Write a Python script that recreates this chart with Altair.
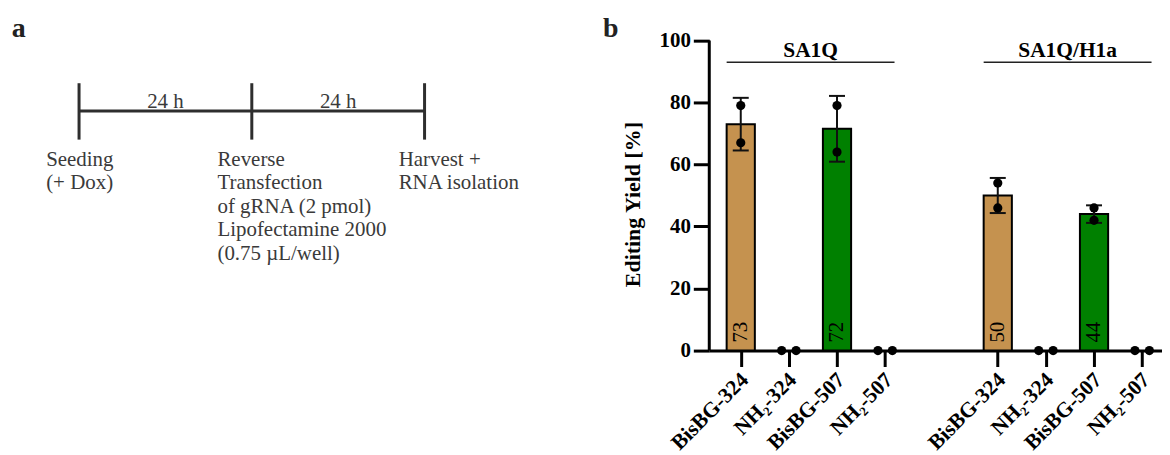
import json
import altair as alt
import pandas as pd

# ---------------- data ----------------
# panel a: timeline
event_hours = [0, 24, 48]
event_texts = [
    "Seeding\n(+ Dox)",
    "Reverse\nTransfection\nof gRNA (2 pmol)\nLipofectamine 2000\n(0.75 µL/well)",
    "Harvest +\nRNA isolation",
]
interval_texts = ["24 h", "24 h"]

# panel b: editing yield
groups = ["SA1Q", "SA1Q/H1a"]
samples = ["BisBG-324", "NH₂-324", "BisBG-507", "NH₂-507"]
sa1q_rep1 = [79, 0, 79, 0]
sa1q_rep2 = [67, 0, 64, 0]
h1a_rep1 = [54, 0, 46, 0]
h1a_rep2 = [46, 0, 42, 0]
y_ticks = [0, 20, 40, 60, 80, 100]

# ---------------- style / layout ----------------
SERIF = "Liberation Serif"
TAN = "#C5924F"
GREEN = "#008000"
GROUP_GAP = 1.34        # extra category slots between the two groups
BAR_HALF = 0.293
CAP_HALF = 0.166
DOT_SPREAD = 0.15
LABEL_DX = [-33, -34.5, -26]

reps = {groups[0]: (sa1q_rep1, sa1q_rep2), groups[1]: (h1a_rep1, h1a_rep2)}

bar_rows, pt_rows = [], []
for gi, g in enumerate(groups):
    r1, r2 = reps[g]
    for si, s in enumerate(samples):
        pos = si + gi * (len(samples) + GROUP_GAP)
        a, b = r1[si], r2[si]
        mean = (a + b) / 2
        sd = abs(a - b) / 2 ** 0.5
        bar_rows.append(dict(group=g, sample=s, pos=pos, x1=pos - BAR_HALF, x2=pos + BAR_HALF,
                             c1=pos - CAP_HALF, c2=pos + CAP_HALF, zero=0,
                             mean=mean, lo=mean - sd, hi=mean + sd, label=str(int(mean + 0.5))))
        offs = (-DOT_SPREAD, DOT_SPREAD) if a == b else (0, 0)
        for v, o in zip((a, b), offs):
            pt_rows.append(dict(group=g, sample=s, px=pos + o, value=v))

bars = pd.DataFrame(bar_rows)
pts = pd.DataFrame(pt_rows)
filled = bars[bars["mean"] > 0].reset_index(drop=True)

grp_rows = []
for g in groups:
    sub = bars[bars["group"] == g]
    lo_x = sub["pos"].min() - BAR_HALF
    hi_x = sub["pos"].max() + 0.195
    grp_rows.append(dict(group=g, l1=lo_x, l2=hi_x, mid=(lo_x + hi_x) / 2))
grp = pd.DataFrame(grp_rows)

tick_pos = [float(v) for v in bars["pos"]]
split = len(samples) - 1 + (GROUP_GAP + 1) / 2
label_expr = (f"{json.dumps(samples, ensure_ascii=False)}"
              f"[round(datum.value > {split} ? datum.value - {len(samples) + GROUP_GAP} : datum.value)]")

xs = alt.Scale(domain=[-0.654, 8.746], nice=False, zero=False)
ys = alt.Scale(domain=[0, 110.2], nice=False, zero=True)

x_axis = alt.Axis(values=tick_pos, labelExpr=label_expr, title=None, grid=False,
                  domain=True, domainWidth=3, domainColor="black",
                  ticks=True, tickSize=16, tickWidth=3, tickColor="black",
                  labelAngle=315, labelAlign="right", labelBaseline="middle",
                  labelFont=SERIF, labelFontWeight="bold", labelFontSize=21.5, labelColor="black",
                  labelPadding=10, labelOffset=4, labelOverlap=False, labelFlush=False, labelBound=False)
y_axis = alt.Axis(values=y_ticks, grid=False, domain=False,
                  ticks=True, tickSize=16, tickWidth=3, tickColor="black",
                  labelFont=SERIF, labelFontWeight="bold", labelFontSize=21, labelColor="black",
                  labelPadding=3, labelFlush=False,
                  title="Editing Yield [%]", titleFont=SERIF, titleFontSize=22, titleFontWeight="bold",
                  titleColor="black", titleX=-70, titleY=196, titleAngle=270, titleAlign="center",
                  titleBaseline="alphabetic")

base_b = alt.Chart(filled)

bar_layer = base_b.mark_rect(stroke="black", strokeWidth=2).encode(
    x=alt.X("x1:Q", scale=xs, axis=x_axis),
    x2="x2:Q",
    y=alt.Y("mean:Q", scale=ys, axis=y_axis),
    y2="zero:Q",
    fill=alt.Fill("sample:N", scale=alt.Scale(domain=[samples[0], samples[2]], range=[TAN, GREEN]), legend=None),
)
err_layer = base_b.mark_rule(color="#111", strokeWidth=2).encode(
    x="pos:Q", y="lo:Q", y2="hi:Q")
cap_hi = base_b.mark_rule(color="#111", strokeWidth=2).encode(x="c1:Q", x2="c2:Q", y="hi:Q")
cap_lo = base_b.mark_rule(color="#111", strokeWidth=2).encode(x="c1:Q", x2="c2:Q", y="lo:Q")
dot_layer = alt.Chart(pts).mark_circle(size=85, color="black", opacity=1).encode(
    x="px:Q", y="value:Q")
val_layer = base_b.mark_text(angle=270, align="left", baseline="middle", dx=8,
                             font=SERIF, fontSize=21, color="black").encode(
    x="pos:Q", y="zero:Q", text="label:N")
yline = alt.Chart(pd.DataFrame({"lo": [y_ticks[0]], "hi": [y_ticks[-1]]})).mark_rule(
    color="black", strokeWidth=3).encode(x=alt.value(0), y="lo:Q", y2="hi:Q")
grp_line = alt.Chart(grp).mark_rule(color="#222", strokeWidth=1.5).encode(
    x="l1:Q", x2="l2:Q", y=alt.value(53.7))
grp_text = alt.Chart(grp).mark_text(font=SERIF, fontSize=21.5, fontWeight="bold", color="black",
                                    baseline="alphabetic", align="center").encode(
    x="mid:Q", y=alt.value(48), text="group:N")

panel_b = alt.layer(bar_layer, err_layer, cap_hi, cap_lo, dot_layer, val_layer, yline,
                    grp_line, grp_text).properties(width=454, height=343)

# ---------------- panel a ----------------
ts = alt.Scale(domain=[-9.87, 87.04], nice=False, zero=False)
ev = pd.DataFrame({"hour": event_hours, "text": event_texts})
iv = pd.DataFrame({"mid": [(event_hours[i] + event_hours[i + 1]) / 2 for i in range(len(interval_texts))],
                   "text": interval_texts})
span = pd.DataFrame({"start": [min(event_hours)], "end": [max(event_hours)]})

LINE = "#2e2e2e"
TXT = "#3a3a3a"
tl_line = alt.Chart(span).mark_rule(color=LINE, strokeWidth=3).encode(
    x=alt.X("start:Q", scale=ts, axis=None), x2="end:Q", y=alt.value(102.5))
tl_ticks = alt.Chart(ev).mark_rule(color=LINE, strokeWidth=3).encode(
    x=alt.X("hour:Q", scale=ts, axis=None), y=alt.value(74.7), y2=alt.value(131.3))
tl_iv = alt.Chart(iv).mark_text(font=SERIF, fontSize=21, color=TXT, baseline="alphabetic", align="center").encode(
    x=alt.X("mid:Q", scale=ts, axis=None), y=alt.value(100), text="text:N")
ev_layers = []
for i in range(len(event_hours)):
    ev_layers.append(
        alt.Chart(ev.iloc[[i]].reset_index(drop=True)).mark_text(
            font=SERIF, fontSize=21, color=TXT, align="left",
            baseline="alphabetic", lineBreak="\n", lineHeight=23.6, dx=LABEL_DX[i]).encode(
            x=alt.X("hour:Q", scale=ts, axis=None), y=alt.value(157.5), text="text:N"))

letter_a = alt.Chart(pd.DataFrame({"t": ["a"]})).mark_text(
    font=SERIF, fontSize=28, fontWeight="bold", color="#222", align="left", baseline="alphabetic").encode(
    x=alt.value(3.7), y=alt.value(28.7), text="t:N")
letter_b = alt.Chart(pd.DataFrame({"t": ["b"]})).mark_text(
    font=SERIF, fontSize=28, fontWeight="bold", color="#222", align="left", baseline="alphabetic").encode(
    x=alt.value(597), y=alt.value(28.7), text="t:N")

panel_a = alt.layer(tl_line, tl_ticks, tl_iv, *ev_layers, letter_a, letter_b).properties(width=700, height=343)

chart = alt.hconcat(panel_a, panel_b, spacing=3.7, bounds="flush").properties(
    padding=0, background="white").configure_view(stroke=None)

chart.save("out.html", embed_options={"renderer": "svg", "actions": False})
